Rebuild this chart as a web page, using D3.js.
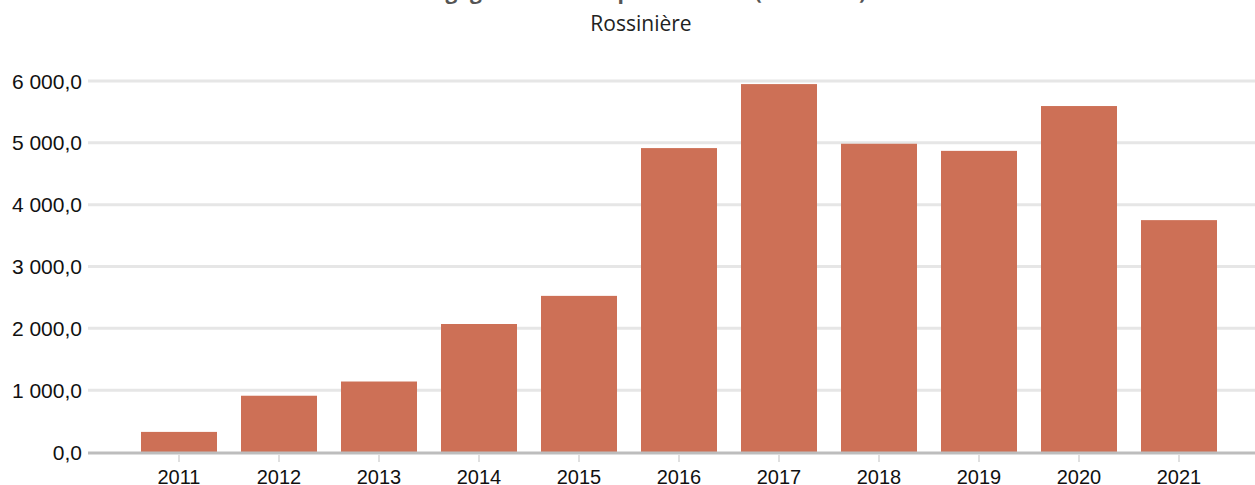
<!DOCTYPE html>
<html>
<head>
<meta charset="utf-8">
<script src="https://cdn.jsdelivr.net/npm/d3@7"></script>
<style>
  body { margin: 0; background: #fff; }
  svg { display: block; }
</style>
</head>
<body>
<div id="chart"></div>
<script>
const years = ["2011", "2012", "2013", "2014", "2015", "2016", "2017", "2018", "2019", "2020", "2021"];
const values = [325, 910, 1140, 2070, 2525, 4915, 5950, 4985, 4870, 5595, 3750];
const yTicks = [0, 1000, 2000, 3000, 4000, 5000, 6000];

const W = 1255, H = 485;
const plot = {left: 88, right: 1255, top: 81, bottom: 452};

const svg = d3.select("#chart").append("svg")
  .attr("width", W)
  .attr("height", H);

const x = d3.scaleBand()
  .domain(years)
  .range([129, 1229])
  .paddingInner(0.24)
  .paddingOuter(0.12);

const y = d3.scaleLinear()
  .domain([0, 6000])
  .range([plot.bottom, plot.top]);

const loc = d3.formatLocale({decimal: ",", thousands: "\u00a0", grouping: [3], currency: ["", " CHF"]});
const fmt = loc.format(",.1f");

// titre (coupé en haut)
svg.append("text")
  .attr("x", 643).attr("y", -1)
  .attr("text-anchor", "middle")
  .style("font-family", "'Open Sans', sans-serif")
  .style("font-weight", "bold")
  .style("font-size", "21px")
  .style("fill", "#555")
  .text("Engagements nets par habitant (en francs)");

svg.append("text")
  .attr("x", 641).attr("y", 31)
  .attr("text-anchor", "middle")
  .style("font-family", "'Open Sans', sans-serif")
  .style("font-size", "21px")
  .style("fill", "#222")
  .text("Rossinière");

// grille
svg.append("g")
  .selectAll("line")
  .data(yTicks.filter(d => d > 0))
  .join("line")
    .attr("x1", plot.left).attr("x2", plot.right)
    .attr("y1", d => y(d)).attr("y2", d => y(d))
    .attr("stroke", "#e6e6e6")
    .attr("stroke-width", 3);

// barres
svg.append("g")
  .selectAll("rect")
  .data(years)
  .join("rect")
    .attr("x", d => x(d))
    .attr("width", x.bandwidth())
    .attr("y", (d, i) => y(values[i]))
    .attr("height", (d, i) => y(0) - y(values[i]))
    .attr("fill", "#cd7056");

// axe zéro
svg.append("line")
  .attr("x1", plot.left).attr("x2", plot.right)
  .attr("y1", y(0) + 1).attr("y2", y(0) + 1)
  .attr("stroke", "#bdbdbd")
  .attr("stroke-width", 3);

// graduations x
svg.append("g")
  .selectAll("line")
  .data(years)
  .join("line")
    .attr("x1", d => x(d) + x.bandwidth() / 2)
    .attr("x2", d => x(d) + x.bandwidth() / 2)
    .attr("y1", y(0) + 3).attr("y2", y(0) + 10)
    .attr("stroke", "#e0e0e0")
    .attr("stroke-width", 2);

svg.append("g")
  .selectAll("text")
  .data(years)
  .join("text")
    .attr("x", d => x(d) + x.bandwidth() / 2)
    .attr("y", 484)
    .attr("text-anchor", "middle")
    .style("font-family", "'Liberation Sans', Arial, sans-serif")
    .style("font-size", "20px")
    .style("fill", "#111")
    .text(d => d);

// étiquettes y
svg.append("g")
  .selectAll("text")
  .data(yTicks)
  .join("text")
    .attr("x", 82)
    .attr("y", d => y(d) + 7.5)
    .attr("text-anchor", "end")
    .style("font-family", "'Liberation Sans', Arial, sans-serif")
    .style("font-size", "21px")
    .style("fill", "#111")
    .text(d => fmt(d));
</script>
</body>
</html>
